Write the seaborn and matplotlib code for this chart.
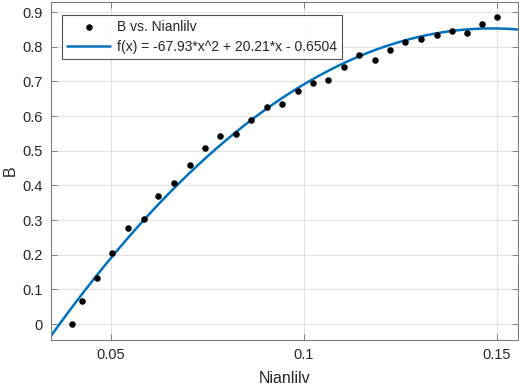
import matplotlib
matplotlib.use("Agg")
import matplotlib.pyplot as plt
import numpy as np
import pandas as pd
import seaborn as sns

# measured points (Nianlilv, B)
nianlilv = [0.0400, 0.0425, 0.0465, 0.0504, 0.0544, 0.0585, 0.0623, 0.0664,
            0.0704, 0.0744, 0.0784, 0.0824, 0.0864, 0.0904, 0.0944, 0.0985,
            0.1024, 0.1064, 0.1104, 0.1144, 0.1184, 0.1224, 0.1263, 0.1304,
            0.1344, 0.1383, 0.1424, 0.1463, 0.1500]
b_vals = [0.000, 0.066, 0.134, 0.206, 0.276, 0.303, 0.369, 0.406,
          0.458, 0.509, 0.543, 0.547, 0.588, 0.626, 0.635, 0.673,
          0.696, 0.704, 0.742, 0.777, 0.761, 0.790, 0.813, 0.821,
          0.834, 0.845, 0.840, 0.866, 0.885]

# quadratic fit coefficients shown in legend
fit_coef = [-67.93, 20.21, -0.6504]
fit_label = "f(x) = -67.93*x^2 + 20.21*x - 0.6504"

xlim = (0.0345, 0.1555)
ylim = (-0.046, 0.929)


def main():
    sns.set_theme(style="white")
    plt.rcParams['font.family'] = ['Liberation Sans', 'DejaVu Sans']
    edge = "#262626"

    fig = plt.figure(figsize=(5.19, 3.86), dpi=100)
    ax = fig.add_axes([0.0983, 0.1192, 0.8997, 0.8756])

    df = pd.DataFrame({"Nianlilv": nianlilv, "B": b_vals})
    xs = np.linspace(xlim[0], xlim[1], 300)
    fit_df = pd.DataFrame({"x": xs, "y": np.polyval(fit_coef, xs)})

    sns.scatterplot(data=df, x="Nianlilv", y="B", ax=ax, color="black",
                    s=22, linewidth=0, label="B vs. Nianlilv", zorder=3)
    sns.lineplot(data=fit_df, x="x", y="y", ax=ax, color="#0072BD",
                 linewidth=1.8, label=fit_label, zorder=2)

    ax.set_xlim(*xlim)
    ax.set_ylim(*ylim)
    ax.set_xticks([0.05, 0.1, 0.15])
    ax.set_xticklabels(["0.05", "0.1", "0.15"])
    ax.set_yticks(np.arange(0, 0.91, 0.1))
    ax.set_yticklabels(["0"] + ["%.1f" % v for v in np.arange(0.1, 0.91, 0.1)])

    ax.grid(True, color="#e3e3e3", linewidth=0.8)
    ax.set_axisbelow(True)
    for sp in ax.spines.values():
        sp.set_color("#7f7f7f")
        sp.set_linewidth(0.8)
    ax.tick_params(direction="in", length=4, width=0.7, color="#7f7f7f",
                   labelsize=10.5, labelcolor=edge, top=True, right=True,
                   bottom=True, left=True, pad=6)
    ax.set_xlabel("Nianlilv", fontsize=11.5, color=edge, labelpad=6)
    ax.set_ylabel("B", fontsize=11.5, color=edge, labelpad=3)

    leg = ax.legend(loc="upper left", bbox_to_anchor=(0.024, 0.961),
                    fontsize=10, frameon=True, fancybox=False,
                    borderpad=0.35, handlelength=3.1, handletextpad=0.5,
                    labelspacing=0.45, borderaxespad=0)
    leg.get_frame().set_edgecolor(edge)
    leg.get_frame().set_linewidth(0.8)

    fig.savefig("out.png", dpi=100, facecolor="white")


if __name__ == "__main__":
    main()
